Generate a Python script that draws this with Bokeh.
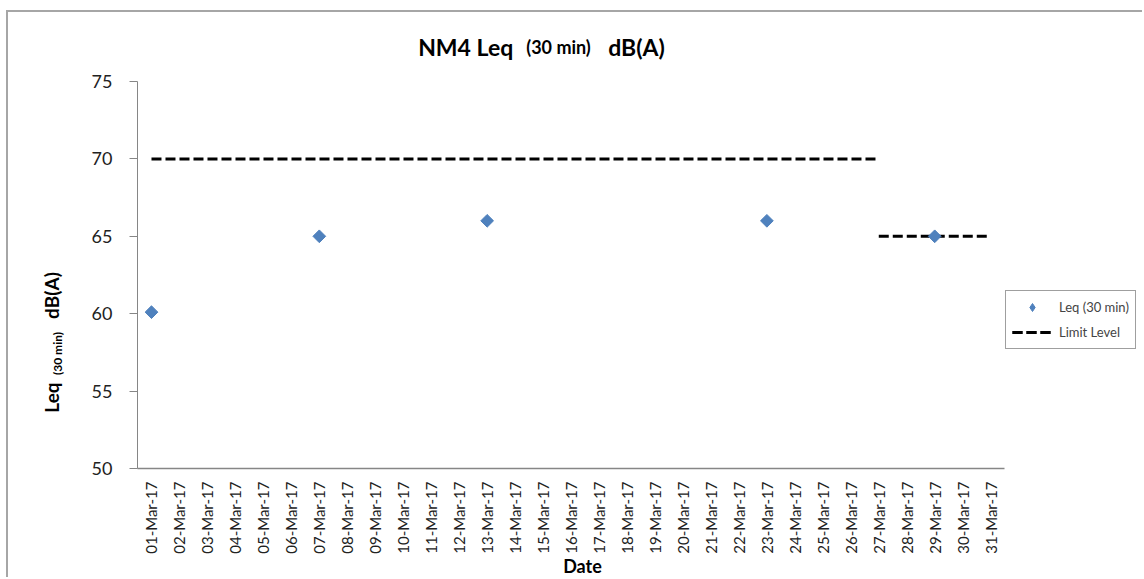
from math import pi
from bokeh.plotting import figure
from bokeh.models import FactorRange, Range1d, Label, Legend, LegendItem
from bokeh.embed import file_html
from bokeh.resources import INLINE

dates = ["01-Mar-17", "02-Mar-17", "03-Mar-17", "04-Mar-17", "05-Mar-17", "06-Mar-17",
         "07-Mar-17", "08-Mar-17", "09-Mar-17", "10-Mar-17", "11-Mar-17", "12-Mar-17",
         "13-Mar-17", "14-Mar-17", "15-Mar-17", "16-Mar-17", "17-Mar-17", "18-Mar-17",
         "19-Mar-17", "20-Mar-17", "21-Mar-17", "22-Mar-17", "23-Mar-17", "24-Mar-17",
         "25-Mar-17", "26-Mar-17", "27-Mar-17", "28-Mar-17", "29-Mar-17", "30-Mar-17",
         "31-Mar-17"]
# empty slots on the right of the axis, where the legend sits
pad_factors = ["pad1", "pad2", "pad3", "pad4", "pad5"]

leq_dates = ["01-Mar-17", "07-Mar-17", "13-Mar-17", "23-Mar-17", "29-Mar-17"]
leq_values = [60.1, 65, 66, 66, 65]

limit1_dates = ["01-Mar-17", "27-Mar-17"]
limit1_values = [70, 70]
limit2_dates = ["27-Mar-17", "31-Mar-17"]
limit2_values = [65, 65]

y_ticks = [50, 55, 60, 65, 70, 75]

FONT = "Lato"
NBSP = "\u00a0"
BLUE = "#4F81BD"

p = figure(width=1136, height=567, output_backend="svg", toolbar_location=None,
           x_range=FactorRange(factors=dates + pad_factors, range_padding=0),
           y_range=Range1d(50, 75),
           min_border_left=129, min_border_right=0, min_border_top=69, min_border_bottom=111)
p.outline_line_color = None
p.xgrid.grid_line_color = None
p.ygrid.grid_line_color = None
p.background_fill_color = "white"
p.border_fill_color = "white"
p.styles = {"margin-left": "6px", "margin-top": "10px",
            "border-top": "2px solid #a6a6a6", "border-left": "2px solid #a6a6a6"}

# axes
p.yaxis.ticker = y_ticks
p.yaxis.axis_line_color = "#868686"
p.yaxis.major_tick_line_color = "#868686"
p.yaxis.major_tick_out = 8
p.yaxis.major_tick_in = 0
p.yaxis.minor_tick_line_color = None
p.yaxis.major_label_text_font = FONT
p.yaxis.major_label_text_font_size = "18px"
p.yaxis.major_label_text_color = "#222222"
p.yaxis.major_label_standoff = 17

p.xaxis.bounds = (0, len(dates))
p.xaxis.axis_line_color = "#868686"
p.xaxis.axis_line_width = 1.5
p.xaxis.major_tick_line_color = None
p.xaxis.major_tick_out = 0
p.xaxis.major_tick_in = 0
p.xaxis.minor_tick_line_color = None
p.xaxis.major_label_orientation = pi / 2
p.xaxis.major_label_overrides = {f: "" for f in pad_factors}
p.xaxis.major_label_text_font = FONT
p.xaxis.major_label_text_font_size = "15px"
p.xaxis.major_label_text_color = "#222222"
p.xaxis.major_label_standoff = 13

# data
l1 = p.line(limit1_dates, limit1_values, line_color="black", line_width=3, line_dash="10 4")
l2 = p.line(limit2_dates, limit2_values, line_color="black", line_width=3, line_dash="10 4")
sc = p.scatter(leq_dates, leq_values, marker="square", angle=pi / 4, size=9,
               fill_color=BLUE, line_color=BLUE)
# legend swatch only (the legend does not rotate markers); its one point is NaN, so not drawn
swatch = p.scatter(x=leq_dates[:1], y=[float("nan")], marker="diamond",
                   fill_color=BLUE, line_color=BLUE)

legend = Legend(items=[LegendItem(label="Leq (30 min)", renderers=[swatch]),
                       LegendItem(label="Limit Level", renderers=[l1, l2])],
                location=(868, 119), orientation="vertical",
                glyph_width=40, glyph_height=20, spacing=5, padding=6, margin=0,
                label_standoff=7, label_text_font=FONT, label_text_font_size="13px",
                border_line_color="#404040", border_line_width=1,
                background_fill_color="white", background_fill_alpha=1)
p.add_layout(legend, "center")


def lab(x, y, text, size, panel, angle=0.0):
    p.add_layout(Label(x=x, y=y, x_units="canvas", y_units="canvas", text=text, angle=angle,
                       text_align="center", text_baseline="alphabetic", text_font=FONT,
                       text_font_style="bold", text_font_size=size, text_color="black"), panel)


# title: main text with room for the smaller "(30 min)" part
lab(531, 32, "NM4 Leq" + NBSP * 17 + "dB(A)", "23px", "above")
lab(548, 32, "(30 min)", "18px", "above")

# y axis label (rotated, with subscript)
lab(41, 383, "Leq", "19px", "left", pi / 2)
lab(47, 339, "(30 min)", "12px", "left", pi / 2)
lab(41, 281, "dB(A)", "19px", "left", pi / 2)

# x axis label
lab(572, 551, "Date", "18px", "below")

open("out.html", "w").write(file_html(p, INLINE))
